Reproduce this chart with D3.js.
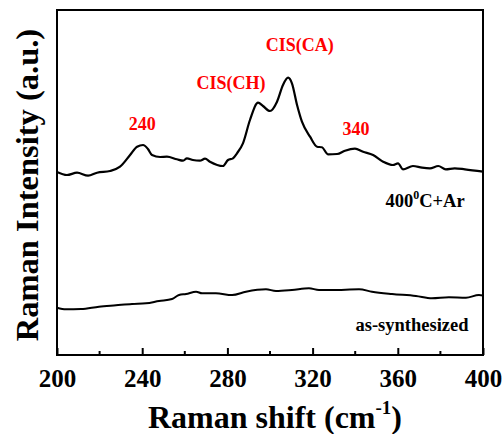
<!DOCTYPE html>
<html><head><meta charset="utf-8">
<script src="https://cdn.jsdelivr.net/npm/d3@7"></script>
<style>body{margin:0;background:#fff}svg{display:block}</style>
</head><body><svg id="c" width="502" height="434"></svg>
<script>
// Raman shift (cm^-1) and intensity (arbitrary units)
const annealedX = [200,204.7,209.4,214.6,218.8,224.9,229.6,234.3,237.6,240.4,242.7,244.6,248.4,251.6,256.3,259.2,261,263.8,267.1,269.5,271.8,277.9,280.3,282.6,284.5,287.3,290.6,294.4,296.7,300,303.3,306.1,308.5,310.3,312.7,315,318.8,322.1,324.4,327.2,331.5,335.2,339.9,343.7,348.4,353.1,357.7,360.1,362.4,367.1,371.4,375.1,379,382.5,386.7,391.5,400];
const annealedY = [183,180,182.3,179.3,182.3,184,188.3,200,208.3,210,206,200,198,198.3,195.7,194.3,196.7,195,194.3,196.3,193.3,189,195,196.7,201.7,211.7,235,252.3,249,244,253.3,270,277.3,271.7,250,233.3,218.3,208.3,207.7,200.7,201,204.3,206.3,203.3,200,193.3,190,191.7,185.7,189,187.3,186.7,189,185.7,186.7,185.7,183.3];
const asSynX = [200,204.2,211.3,219.7,227.7,235.2,241.8,247.9,254,257.3,260.6,265.3,268.1,274.6,282.2,288.7,298.1,302.8,310.3,318.3,323,329.1,341.8,347.9,357.3,368.5,376,384,392,398.1,400];
const asSynY = [47.3,45.7,46,48.3,49.7,51,51.7,54,56,60,61,63.3,61.7,61.7,60,63.3,65.7,64,65,66.7,65,65,65.7,63.3,61,59,56.7,57.7,57.3,60,59.5];
const xTicks = [200,240,280,320,360,400];
const minorTicks = [220,260,300,340,380];
const peakLabels = ["240","CIS(CH)","CIS(CA)","340"];
const peakPos = [[240,225],[281.7,266],[314,304],[340.4,220]];

const FONT = "Liberation Serif, Times New Roman, serif";
const svg = d3.select("#c");
const L=57,R=483,T=10,B=355;
const x = d3.scaleLinear().domain([200,400]).range([L,R]);
const y = d3.scaleLinear().domain([0,345]).range([B,T]);

const line = d3.line().x(d=>x(d[0])).y(d=>y(d[1])).curve(d3.curveMonotoneX);
svg.append("path").datum(d3.zip(annealedX,annealedY)).attr("d",line)
  .attr("fill","none").attr("stroke","#000").attr("stroke-width",2.2).attr("stroke-linejoin","round");
svg.append("path").datum(d3.zip(asSynX,asSynY)).attr("d",line)
  .attr("fill","none").attr("stroke","#000").attr("stroke-width",2).attr("stroke-linejoin","round");

// frame
svg.append("rect").attr("x",L).attr("y",T).attr("width",R-L).attr("height",B-T)
  .attr("fill","none").attr("stroke","#000").attr("stroke-width",2);

// x axis
const ax = svg.append("g").attr("transform",`translate(0,${B})`)
  .call(d3.axisBottom(x).tickValues(xTicks).tickSizeInner(-7).tickSizeOuter(0).tickPadding(14).tickFormat(d3.format("d")));
ax.attr("font-family",FONT).attr("font-weight","bold").attr("font-size",25);
ax.select(".domain").remove();
ax.selectAll("line").attr("stroke","#000").attr("stroke-width",2);
ax.selectAll("text").attr("fill","#000");
svg.append("g").selectAll("line").data(minorTicks).join("line")
  .attr("x1",d=>x(d)).attr("x2",d=>x(d)).attr("y1",B).attr("y2",B-4).attr("stroke","#000").attr("stroke-width",2);

const txt = (sel)=>sel.attr("font-family",FONT).attr("font-weight","bold");

// axis titles
const xt = txt(svg.append("text")).attr("x",275).attr("y",428).attr("text-anchor","middle").attr("font-size",32);
xt.append("tspan").text("Raman shift (cm");
xt.append("tspan").attr("font-size",19).attr("dy",-14).text("-1");
xt.append("tspan").attr("dy",14).text(")");
txt(svg.append("text")).attr("transform","translate(38,185) rotate(-90)").attr("text-anchor","middle")
  .attr("font-size",32.5).text("Raman Intensity (a.u.)");

// peak labels
txt(svg.append("g")).selectAll("text").data(peakLabels).join("text")
  .attr("x",(d,i)=>x(peakPos[i][0])).attr("y",(d,i)=>y(peakPos[i][1]))
  .attr("text-anchor","middle").attr("font-size",18).attr("fill","#ff0000").text(d=>d);

// series labels
const s1 = txt(svg.append("text")).attr("x",425).attr("y",207).attr("text-anchor","middle").attr("font-size",18.5);
s1.append("tspan").text("400");
s1.append("tspan").attr("font-size",12).attr("dy",-8).text("0");
s1.append("tspan").attr("dy",8).text("C+Ar");
txt(svg.append("text")).attr("x",412).attr("y",331).attr("text-anchor","middle").attr("font-size",18.5).text("as-synthesized");
</script></body></html>
